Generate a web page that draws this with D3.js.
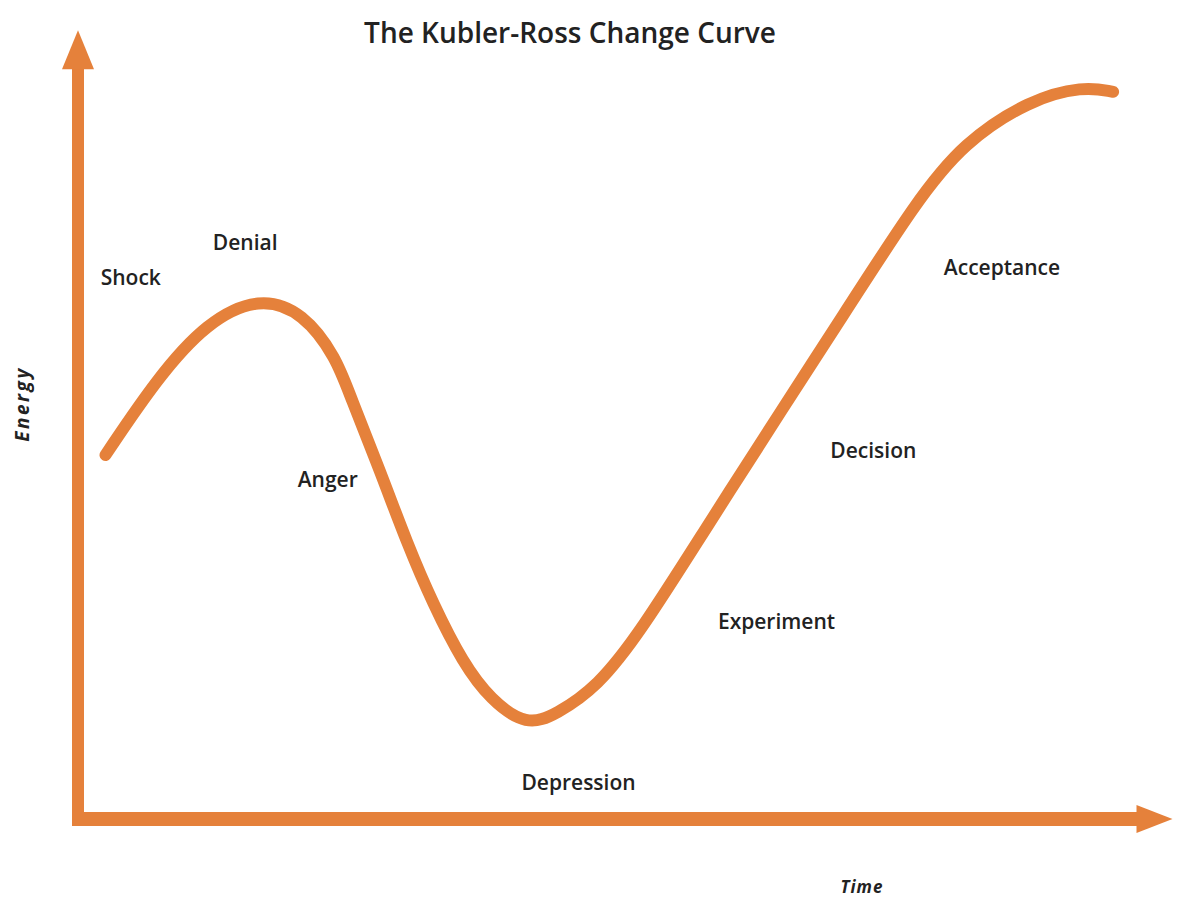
<!DOCTYPE html>
<html>
<head>
<meta charset="utf-8">
<script src="https://cdn.jsdelivr.net/npm/d3@7"></script>
<style>
  body { margin: 0; background: #fff; }
  svg text { font-family: 'Open Sans', 'DejaVu Sans', sans-serif; fill: #222; }
  .title { font-size: 28px; font-weight: 600; }
  .stage { font-size: 21px; font-weight: 600; }
  .axis-label { font-size: 17px; font-weight: 700; font-style: italic; }
</style>
</head>
<body>
<svg id="chart" width="1178" height="900"></svg>
<script>
// curve: time 0..100, energy 0..100
const time   = [2.5, 7.2, 11.7, 16.5, 20.5, 23.5, 24.7, 27.5, 29.9, 32.3, 35.0, 37.5, 40.8, 43.5, 47.2, 51.1, 57.2, 64.1, 69.3, 76.3, 80.5, 86.5, 91.4, 94.1]
const energy = [45.5, 55.1, 62.1, 65.3, 63.3, 57.6, 53.0, 43.4, 34.5, 26.8, 19.5, 14.9, 11.6, 13.1, 16.5, 23.3, 36.6, 51.4, 62.4, 77.4, 84.5, 89.9, 91.6, 90.9]

// stage labels and where they sit (time, energy of baseline)
const stages      = ['Shock', 'Denial', 'Anger', 'Depression', 'Experiment', 'Decision', 'Acceptance']
const stageTime   = [4.8, 15.2, 22.7, 45.5, 63.5, 72.3, 84.0]
const stageEnergy = [66.8, 71.1, 41.5, 3.6, 23.8, 45.1, 68.0]

const title = 'The Kubler-Ross Change Curve'
const xTitle = 'Time', yTitle = 'Energy'
const orange = '#e5813b'

const frame = {width: 1178, height: 900, left: 78, right: 0, top: 19, bottom: 81}
const svg = d3.select('#chart')

const x = d3.scaleLinear().domain([0, 100]).range([frame.left, frame.width - frame.right])
const y = d3.scaleLinear().domain([0, 100]).range([frame.height - frame.bottom, frame.top])

// axes as arrows
const x0 = x(0), y0 = y(0)
const yTip = y(98.6), xTip = x(99.5)
svg.append('line').attr('x1', x0).attr('y1', y0 + 7).attr('x2', x0).attr('y2', yTip + 36)
  .attr('stroke', orange).attr('stroke-width', 12)
svg.append('path')
  .attr('d', `M${x0},${yTip} L${x0 + 16},${yTip + 39} L${x0 - 16},${yTip + 39} Z`)
  .attr('fill', orange)
svg.append('line').attr('x1', x0 - 6).attr('y1', y0).attr('x2', xTip - 32).attr('y2', y0)
  .attr('stroke', orange).attr('stroke-width', 14)
svg.append('path')
  .attr('d', `M${xTip},${y0} L${xTip - 36},${y0 - 14} L${xTip - 36},${y0 + 14} Z`)
  .attr('fill', orange)

// the change curve
const line = d3.line()
  .x((d, i) => x(time[i]))
  .y(d => y(d))
  .curve(d3.curveBasis)
svg.append('path').datum(energy)
  .attr('d', line)
  .attr('fill', 'none')
  .attr('stroke', orange)
  .attr('stroke-width', 12)
  .attr('stroke-linecap', 'round')
  .attr('stroke-linejoin', 'round')

svg.selectAll('.stage').data(stages).enter().append('text')
  .attr('class', 'stage')
  .attr('x', (d, i) => x(stageTime[i]))
  .attr('y', (d, i) => y(stageEnergy[i]))
  .attr('text-anchor', 'middle')
  .text(d => d)

svg.append('text').attr('class', 'title')
  .attr('x', 570).attr('y', 43).attr('text-anchor', 'middle').text(title)

svg.append('text').attr('class', 'axis-label')
  .attr('x', 862).attr('y', 893).attr('text-anchor', 'middle')
  .style('letter-spacing', '1px').text(xTitle)

svg.append('text').attr('class', 'axis-label')
  .attr('transform', 'translate(29,404) rotate(-90)')
  .attr('text-anchor', 'middle')
  .style('font-size', '19px')
  .style('letter-spacing', '2.5px').text(yTitle)
</script>
</body>
</html>
